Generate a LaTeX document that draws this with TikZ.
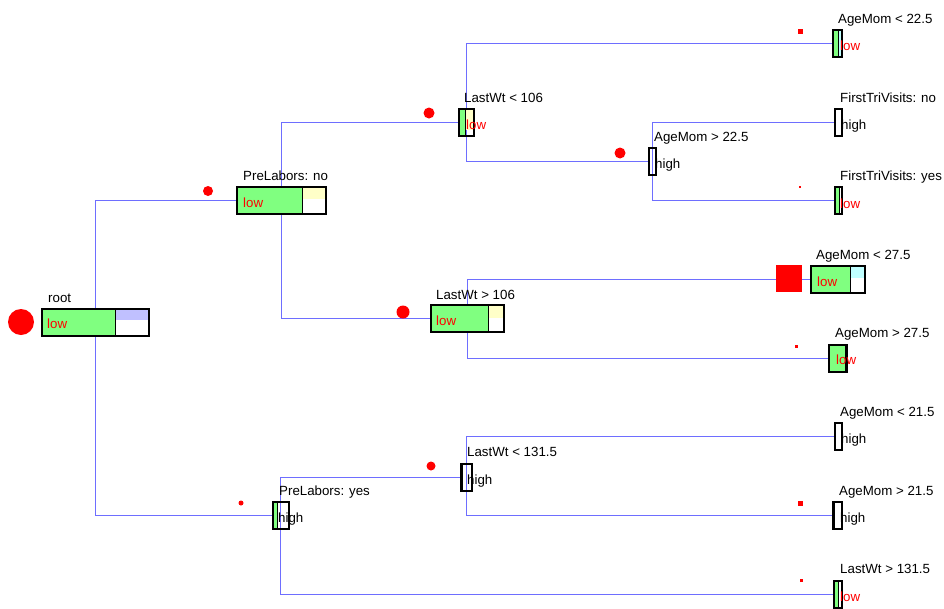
\documentclass[tikz,border=0pt]{standalone}
\usepackage{fontspec}
\setmainfont{Liberation Sans}
\usetikzlibrary{backgrounds}
\definecolor{boxgreen}{RGB}{128,255,128}
\definecolor{boxlav}{RGB}{192,192,255}
\definecolor{boxyel}{RGB}{255,255,200}
\definecolor{boxcyan}{RGB}{192,255,255}
\definecolor{edgeblue}{RGB}{110,110,255}
\tikzset{
  edge/.style={edgeblue,line width=1.3pt},
  lbl/.style={anchor=base west,inner sep=0pt},
  lowtxt/.style={anchor=base west,inner sep=0pt,red},
  hightxt/.style={anchor=base west,inner sep=0pt},
  dotmark/.style={fill=red},
}
% name, left, top, right, split, bottom of top colour, top colour
\newcommand\splitbox[7]{%
  \fill[boxgreen] (#2,#3) rectangle (#5,#3+27);
  \fill[#7] (#5,#3) rectangle (#4,#6);
  \draw[line width=1pt] (#5,#3) -- (#5,#3+27);
  \node[draw,line width=1.6pt,inner sep=0pt,minimum width=#4-#2,minimum height=27,anchor=north west] (#1) at (#2,#3) {};
}
\begin{document}
\begin{tikzpicture}[x=1pt,y=-1pt,font=\fontsize{13.3}{16}\selectfont]
\useasboundingbox (0,0) rectangle (944,608);
\splitbox{root}{41}{308}{148}{115}{320}{boxlav}
\splitbox{pln}{236}{186}{325}{302}{199}{boxyel}
\splitbox{lwa}{458}{108}{473}{465}{130}{boxyel}
\splitbox{ama}{832}{29}{841}{838}{56}{boxcyan}
\splitbox{amb}{648}{147}{655}{648}{147}{white}
\splitbox{ftn}{834}{108}{841}{834}{108}{white}
\splitbox{fty}{834}{186}{841}{839}{186}{white}
\splitbox{lwb}{430}{304}{503}{488}{318}{boxyel}
\splitbox{amc}{810}{265}{864}{850}{278}{boxcyan}
\splitbox{amd}{828}{344}{846}{845}{344}{white}
\splitbox{ply}{272}{501}{288}{277}{501}{white}
\splitbox{lwc}{460}{463}{471}{462}{463}{white}
\splitbox{ame}{834}{422}{841}{834}{422}{white}
\splitbox{amf}{832}{501}{841}{834}{501}{white}
\splitbox{lwd}{833}{580}{841}{838}{580}{white}

\fill[dotmark] (21,322) circle (13);
\fill[dotmark] (208,191) circle (5);
\fill[dotmark] (429,113) circle (5.5);
\fill[dotmark] (620,153) circle (5.5);
\fill[dotmark] (403,312) circle (6.5);
\fill[dotmark] (431,466) circle (4.5);
\fill[dotmark] (241,503) circle (2.5);
\fill[dotmark] (797.5,28.5) rectangle +(5,5);
\fill[dotmark] (799,186) rectangle +(2,2);
\fill[dotmark] (776,265) rectangle (802,292);
\fill[dotmark] (794.5,344.5) rectangle +(3,3);
\fill[dotmark] (797.5,500.5) rectangle +(5,5);
\fill[dotmark] (799.5,578.5) rectangle +(3,3);

\node[lbl] at (48,302) {root};
\node[lbl] at (243,180) {PreLabors: no};
\node[lbl] at (464,102) {LastWt < 106};
\node[lbl] at (838,23) {AgeMom < 22.5};
\node[lbl] at (654,141) {AgeMom > 22.5};
\node[lbl] at (840,102) {FirstTriVisits: no};
\node[lbl] at (840,180) {FirstTriVisits: yes};
\node[lbl] at (436,299) {LastWt > 106};
\node[lbl] at (816,259) {AgeMom < 27.5};
\node[lbl] at (835,337) {AgeMom > 27.5};
\node[lbl] at (279,495) {PreLabors: yes};
\node[lbl] at (467,456) {LastWt < 131.5};
\node[lbl] at (840,416) {AgeMom < 21.5};
\node[lbl] at (839,495) {AgeMom > 21.5};
\node[lbl] at (840,573) {LastWt > 131.5};

\node[lowtxt] at (47,328) {low};
\node[lowtxt] at (243,207) {low};
\node[lowtxt] at (466,129) {low};
\node[lowtxt] at (840,50) {low};
\node[hightxt] at (655,168) {high};
\node[hightxt] at (841,129) {high};
\node[lowtxt] at (840,208) {low};
\node[lowtxt] at (436,325) {low};
\node[lowtxt] at (817,286) {low};
\node[lowtxt] at (836,364) {low};
\node[hightxt] at (278,522) {high};
\node[hightxt] at (467,484) {high};
\node[hightxt] at (841,443) {high};
\node[hightxt] at (840,522) {high};
\node[lowtxt] at (840,601) {low};

\begin{scope}[on background layer]
\draw[edge] (root.center) |- (pln.west);
\draw[edge] (root.center) |- (ply.west);
\draw[edge] (pln.center) |- (lwa.west);
\draw[edge] (pln.center) |- (lwb.west);
\draw[edge] (lwa.center) |- (ama.west);
\draw[edge] (lwa.center) |- (amb.west);
\draw[edge] (amb.center) |- (ftn.west);
\draw[edge] (amb.center) |- (fty.west);
\draw[edge] (lwb.center) |- (amc.west);
\draw[edge] (lwb.center) |- (amd.west);
\draw[edge] (ply.center) |- (lwc.west);
\draw[edge] (ply.center) |- (lwd.west);
\draw[edge] (lwc.center) |- (ame.west);
\draw[edge] (lwc.center) |- (amf.west);
\end{scope}
\end{tikzpicture}
\end{document}
